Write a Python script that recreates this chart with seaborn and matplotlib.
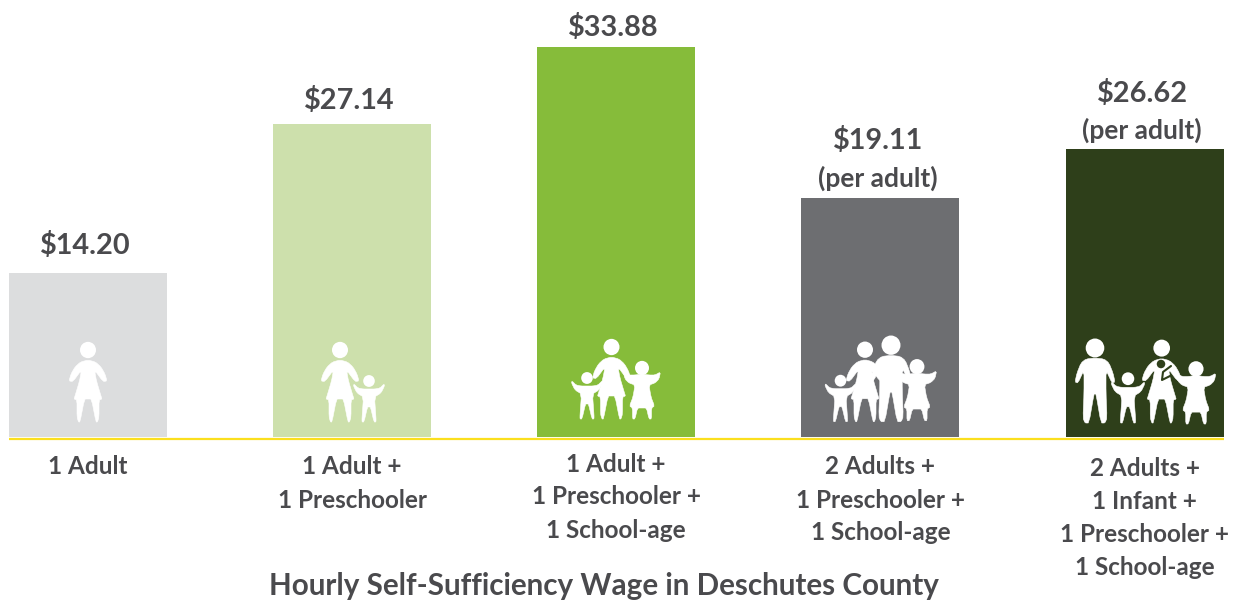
import matplotlib
matplotlib.use("Agg")
import matplotlib.pyplot as plt
import seaborn as sns
import numpy as np
import pandas as pd
from matplotlib.patches import Polygon, Ellipse
from matplotlib.transforms import Affine2D

# ---- data ----
categories = ["1 Adult", "1 Adult +\n1 Preschooler", "1 Adult +\n1 Preschooler +\n1 School-age",
              "2 Adults +\n1 Preschooler +\n1 School-age",
              "2 Adults +\n1 Infant +\n1 Preschooler +\n1 School-age"]
bar_heights = [14.2, 27.14, 33.88, 20.7, 25.0]   # heights as drawn in the picture
wage_labels = ["$14.20", "$27.14", "$33.88", "$19.11", "$26.62"]
notes = ["", "", "", "(per adult)", "(per adult)"]
bar_colors = ["#dcddde", "#cde0ac", "#86bc3a", "#6d6e71", "#2e3f1a"]
title = "Hourly Self-Sufficiency Wage in Deschutes County"

# ---- layout (pixels from top of the figure) ----
W, H = 1235, 600
wage_y = [243, 98, 25, 138, 91]
note_y = [0, 0, 0, 176, 128]
cat_y = [465, 465, 462, 465, 466.5]
line_gap = 33
base_px, px_per_unit = 436.5, 11.5
x0_px, step_px = 87.8, 264.2
ink = "#4a4a4d"
FONT = ["Lato", "DejaVu Sans"]

sns.set_theme(style="white")
plt.rcParams["font.family"] = FONT

fig = plt.figure(figsize=(W / 100, H / 100), dpi=100, facecolor="white")
ax = fig.add_axes([0, 0, 1, 1])
df = pd.DataFrame({"family": categories, "wage": bar_heights})
sns.barplot(data=df, x="family", y="wage", hue="family", palette=bar_colors, legend=False,
            width=158 / step_px, saturation=1, ax=ax, linewidth=0)
ax.set_xlim(-x0_px / step_px, (W - x0_px) / step_px)
ax.set_ylim(-(H - base_px) / px_per_unit, base_px / px_per_unit)
ax.axis("off")

px = Affine2D().scale(1, -1).translate(0, H)  # figure pixels, y down

def put(s, x_i, y, size, dx=0, **kw):
    x = x0_px + step_px * x_i + dx
    ax.text(x, y, s, transform=px, ha="center", va="center_baseline", fontsize=size, color=ink,
            fontweight="bold", linespacing=1.0, **kw)

for i in range(5):
    put(wage_labels[i], i, wage_y[i], 20.8, dx=-2.5)
    if notes[i]:
        put(notes[i], i, note_y[i], 19, dx=-3)
    for j, line in enumerate(categories[i].split("\n")):
        put(line, i, cat_y[i] + j * line_gap, 17.5)
ax.text(604, 583, title, transform=px, ha="center", va="center_baseline", fontsize=21.3,
        color=ink, fontweight="bold")

# yellow rule
ax.plot([9, 1224], [438.5, 438.5], transform=px, color="#fbdf1e", lw=1.6, solid_capstyle="butt")

# ---- icons ----
WOMAN = [(0, 62), (7.5, 60), (13, 55), (17, 48), (19, 41), (15, 40.5), (6.5, 52), (8.5, 41),
         (13, 26), (14, 23), (11, 22), (11, 5), (9.5, 0), (8, 0), (3.5, 23), (0, 23)]
MAN = [(0, 65), (9, 64), (14, 60), (18, 50), (20, 41), (17, 40), (11, 53), (11, 30), (12, 5),
       (10, 0), (6, 0), (1, 29), (0, 29)]
BOY = [(0, 33), (6, 33), (11, 34), (15, 38), (15.5, 36), (12, 29), (5.5, 25), (7, 4), (7, 0), (5, 0), (1.5, 15), (0, 15)]
GIRL = [(0, 45), (7, 44), (13, 44), (18.5, 47), (17, 40), (13, 36), (7, 34), (9, 22), (12.5, 13), (9.5, 11), (9.5, 0),
        (7, 0), (4.5, 11), (0, 11)]
SHAPES = {"w": (WOMAN, 72, 8), "m": (MAN, 75, 9.3), "b": (BOY, 41, 5.8), "g": (GIRL, 51, 7)}

def smooth(pts, n=1):
    p = np.asarray(pts, float)
    for _ in range(n):
        q = np.roll(p, -1, axis=0)
        p = np.column_stack([0.8 * p + 0.2 * q, 0.2 * p + 0.8 * q]).reshape(-1, 2)
    return p

def person(kind, cx, feet, s=1.0):
    tpl, head_dy, r = SHAPES[kind]
    a = np.array(tpl, float)
    mirror = a[::-1][1:-1] * [-1, 1]
    outline = np.vstack([a, mirror])
    xy = smooth(outline)
    xy = np.column_stack([cx + xy[:, 0] * s, feet - xy[:, 1] * s])
    ax.add_patch(Polygon(xy, closed=True, fc="white", ec="white", lw=0.4, transform=px, zorder=5))
    ax.add_patch(Ellipse((cx, feet - head_dy * s), 2 * r * s, 2 * r * s * 1.02, fc="white", ec="none",
                         transform=px, zorder=5))

person("w", 88, 422)
person("w", 340, 422); person("b", 369, 422)
person("w", 611.5, 419); person("b", 587, 419); person("g", 642, 419)
person("b", 840.5, 421.7); person("w", 865, 421.7, 1.0); person("m", 891, 421.7, 1.02); person("g", 917, 420.7, 1.06)
person("m", 1095, 423); person("b", 1128, 423, 1.08); person("w", 1161.7, 423, 1.04); person("g", 1196, 424, 1.08)

# baby in the sling
dark = bar_colors[4]
ax.add_patch(Ellipse((1161, 364), 8.5, 8.5, fc=dark, ec="none", transform=px, zorder=6))
ax.plot([1171, 1163, 1162, 1170], [366, 372, 380, 376], transform=px, color=dark, lw=1.5, zorder=6)

fig.savefig("out.png", dpi=100, facecolor="white")
